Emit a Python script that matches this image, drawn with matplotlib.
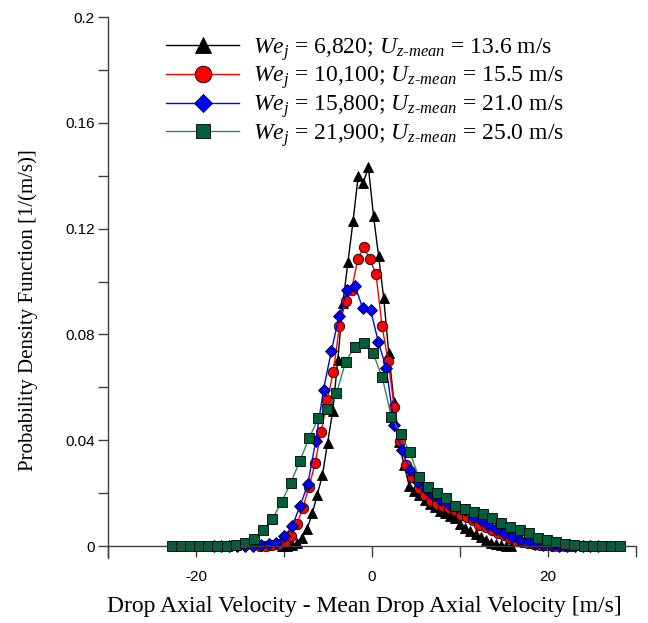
import matplotlib
matplotlib.use("Agg")
import matplotlib.pyplot as plt
from matplotlib.ticker import MultipleLocator, FuncFormatter

plt.rcParams['mathtext.fontset'] = 'custom'
plt.rcParams['mathtext.rm'] = 'Liberation Serif'
plt.rcParams['mathtext.it'] = 'Liberation Serif:italic'
plt.rcParams['axes.unicode_minus'] = False

# data (x in m/s, y in 1/(m/s))
x_we6820 = [-10.27, -9.69, -9.11, -8.53, -7.95, -7.37, -6.79, -6.21, -5.63, -5.05,
            -4.47, -3.89, -3.31, -2.73, -2.15, -1.57, -0.99, -0.41, 0.17, 0.75,
            1.33, 1.91, 2.49, 3.07, 3.65, 4.23, 4.81, 5.39, 5.97, 6.55,
            7.13, 7.71, 8.29, 8.87, 9.45, 10.03, 10.61, 11.19, 11.77, 12.35,
            12.93, 13.51, 14.09, 14.67, 15.25, 15.83]
y_we6820 = [0.0, 0.0001, 0.0004, 0.0013, 0.0032, 0.0065, 0.0125, 0.0195, 0.027, 0.039,
            0.051, 0.0703, 0.092, 0.1075, 0.123, 0.1399, 0.1374, 0.1432, 0.1248, 0.1096,
            0.0937, 0.0729, 0.0546, 0.0394, 0.0305, 0.0228, 0.0208, 0.0194, 0.0175, 0.016,
            0.0147, 0.0132, 0.0125, 0.0115, 0.0105, 0.0085, 0.0068, 0.0056, 0.0045, 0.0034,
            0.0023, 0.0013, 0.0007, 0.0003, 0.0001, 0.0]

x_we10100 = [-12.7, -12.01, -11.32, -10.62, -9.93, -9.24, -8.55, -7.86, -7.16, -6.47,
             -5.78, -5.09, -4.4, -3.7, -3.01, -2.32, -1.63, -0.94, -0.24, 0.45,
             1.14, 1.83, 2.52, 3.22, 3.91, 4.6, 5.29, 5.98, 6.68, 7.37,
             8.06, 8.75, 9.44, 10.14, 10.83, 11.52, 12.21, 12.9, 13.6, 14.29,
             14.98, 15.67, 16.36, 17.06, 17.75, 18.44, 19.13, 19.82, 20.52, 21.21,
             21.9, 22.59]
y_we10100 = [0.0, 0.0001, 0.0003, 0.0007, 0.0015, 0.0039, 0.0083, 0.0145, 0.0224, 0.0313,
             0.0432, 0.0552, 0.0659, 0.0832, 0.0925, 0.0968, 0.1084, 0.113, 0.1084, 0.1028,
             0.0832, 0.070, 0.0526, 0.0396, 0.0306, 0.0262, 0.022, 0.0193, 0.0171, 0.0161,
             0.0151, 0.0145, 0.0136, 0.0117, 0.0109, 0.0098, 0.0079, 0.0073, 0.006, 0.0048,
             0.0042, 0.0029, 0.002, 0.0016, 0.001, 0.0007, 0.0005, 0.0003, 0.0002, 0.0001,
             0.0001, 0.0]

x_we15800 = [-18.0, -17.11, -16.22, -15.32, -14.43, -13.54, -12.65, -11.76, -10.86, -9.97,
             -9.08, -8.19, -7.3, -6.4, -5.51, -4.62, -3.73, -2.84, -1.94, -1.05,
             -0.16, 0.73, 1.62, 2.52, 3.41, 4.3, 5.19, 6.08, 6.98, 7.87,
             8.76, 9.65, 10.54, 11.44, 12.33, 13.22, 14.11, 15.0, 15.9, 16.79,
             17.68, 18.57, 19.46, 20.36, 21.25, 22.14, 23.03, 23.92, 24.82, 25.71]
y_we15800 = [0.0, 0.0, 0.0, 0.0, 0.0, 0.0002, 0.0004, 0.0007, 0.0013, 0.0037,
             0.0075, 0.0151, 0.0233, 0.0397, 0.0592, 0.0738, 0.087, 0.0968, 0.0984, 0.0899,
             0.0892, 0.077, 0.0672, 0.0458, 0.0363, 0.0286, 0.0243, 0.0215, 0.0193, 0.0175,
             0.0158, 0.0146, 0.0136, 0.0109, 0.0098, 0.0078, 0.0065, 0.0048, 0.0035, 0.0023,
             0.002, 0.0008, 0.0006, 0.0004, 0.0002, 0.0002, 0.0001, 0.0001, 0.0, 0.0]

x_we21900 = [-22.76, -21.72, -20.68, -19.64, -18.6, -17.56, -16.52, -15.48, -14.44, -13.4,
             -12.36, -11.32, -10.28, -9.24, -8.2, -7.16, -6.12, -5.08, -4.04, -3.0,
             -1.96, -0.92, 0.12, 1.16, 2.2, 3.24, 4.28, 5.32, 6.36, 7.4,
             8.44, 9.48, 10.52, 11.56, 12.6, 13.64, 14.68, 15.72, 16.76, 17.8,
             18.84, 19.88, 20.92, 21.96, 23.0, 24.04, 25.08, 26.12, 27.16, 28.2]
y_we21900 = [0.0, 0.0, 0.0, 0.0, 0.0, 0.0, 0.0001, 0.0004, 0.0013, 0.0028,
             0.0062, 0.0102, 0.0168, 0.0238, 0.0323, 0.0407, 0.0483, 0.0517, 0.0577, 0.0697,
             0.0754, 0.0766, 0.0729, 0.0638, 0.0489, 0.0422, 0.0357, 0.026, 0.0224, 0.0199,
             0.0183, 0.0151, 0.0142, 0.0129, 0.0122, 0.0107, 0.0086, 0.0073, 0.006, 0.005,
             0.0031, 0.0023, 0.0016, 0.0008, 0.0004, 0.0002, 0.0001, 0.0, 0.0, 0.0]

labels = [r'$We_j$ = 6,820; $U_{z\text{-}mean}$ = 13.6 m/s',
          r'$We_j$ = 10,100; $U_{z\text{-}mean}$ = 15.5 m/s',
          r'$We_j$ = 15,800; $U_{z\text{-}mean}$ = 21.0 m/s',
          r'$We_j$ = 21,900; $U_{z\text{-}mean}$ = 25.0 m/s']

fig = plt.figure(figsize=(6.48, 6.23), dpi=100)
ax = fig.add_axes([0.1667, 0.1043, 0.8148, 0.8684])

ax.plot(x_we6820, y_we6820, color='black', lw=1.0, marker='^', ms=7.5,
        mfc='black', mec='black', mew=0.6, label=labels[0])
ax.plot(x_we10100, y_we10100, color='red', lw=1.0, marker='o', ms=7.5,
        mfc='red', mec='black', mew=0.6, label=labels[1])
ax.plot(x_we15800, y_we15800, color='blue', lw=1.0, marker='D', ms=6,
        mfc='blue', mec='black', mew=0.6, label=labels[2])
ax.plot(x_we21900, y_we21900, color='#2e8b57', lw=1.0, marker='s', ms=6.5,
        mfc='#00603a', mec='black', mew=0.6, label=labels[3])

ax.set_xlim(-30, 30)
ax.set_ylim(-0.0045, 0.2)

for s in ['top', 'right']:
    ax.spines[s].set_visible(False)
ax.spines['bottom'].set_position(('data', 0))
for s in ['left', 'bottom']:
    ax.spines[s].set_color('#404040')
    ax.spines[s].set_linewidth(1.0)

ax.xaxis.set_major_locator(MultipleLocator(10))
ax.xaxis.set_major_formatter(FuncFormatter(lambda v, p: '%d' % v if abs(v) in (0, 20) else ''))
ax.yaxis.set_minor_locator(MultipleLocator(0.02))
ax.set_yticks([0, 0.04, 0.08, 0.12, 0.16, 0.2])
ax.yaxis.set_major_formatter(FuncFormatter(lambda v, p: '%g' % round(v, 2)))

ax.tick_params(which='both', direction='out', length=7.5, width=1.0, color='#404040',
               labelsize=11, pad=2)
ax.tick_params(axis='x', length=8, pad=9)
for t in ax.get_xticklabels() + ax.get_yticklabels():
    t.set_fontfamily('Liberation Sans')

ax.set_xlabel('Drop Axial Velocity - Mean Drop Axial Velocity [m/s]',
              fontsize=17, fontfamily='Liberation Serif')
ax.set_ylabel('Probability Density Function [1/(m/s)]',
              fontsize=15, fontfamily='Liberation Serif')
ax.xaxis.set_label_coords(0.485, -0.071)
ax.yaxis.set_label_coords(-0.133, 0.458)

leg = ax.legend(loc='upper left', bbox_to_anchor=(0.074, 1.0), frameon=False,
                prop={'family': 'Liberation Serif', 'size': 17},
                markerscale=1.6, handlelength=3.1, handletextpad=0.6,
                labelspacing=0.08, borderpad=0.3)

plt.savefig('out.png', dpi=100)
